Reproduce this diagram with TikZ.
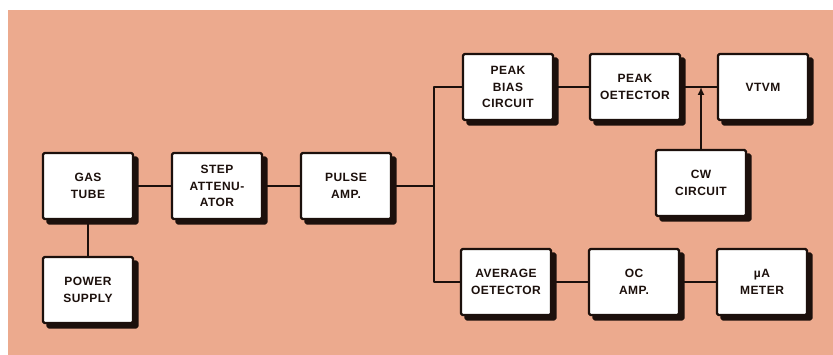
\documentclass[tikz,border=0pt]{standalone}
\usepackage{fontspec}
\setmainfont{Liberation Sans}[LetterSpace=4]
\usetikzlibrary{shadows,arrows.meta}

\definecolor{papier}{RGB}{236,170,142}
\definecolor{inkt}{RGB}{28,16,12}

\begin{document}
\begin{tikzpicture}[x=1pt, y=-1pt, line width=2.4pt, line cap=round, line join=round,
  blok/.style={draw=inkt, fill=white, line width=2.2pt, rounded corners=1.5pt,
    minimum width=90pt, minimum height=66pt, align=center, text=inkt,
    font=\fontsize{12}{16.5}\selectfont\bfseries,
    copy shadow={shadow xshift=4.5pt, shadow yshift=-4.5pt, fill=inkt, draw=inkt}},
  lijn/.style={draw=inkt, line width=2.4pt}]

  %% ════ achtergrond ════
  \fill[white] (0,0) rectangle (833,355);
  \fill[papier] (8,10) rectangle (833,355);

  %% ════ blokken ════
  \node[blok] (gas)     at (88,186)  {GAS\\TUBE};
  \node[blok] (voeding) at (88,290)  {POWER\\SUPPLY};
  \node[blok] (stap)    at (217,186) {STEP\\ATTENU-\\ATOR};
  \node[blok] (puls)    at (346,186) {PULSE\\AMP.};
  \node[blok] (bias)    at (508,87)  {PEAK\\BIAS\\CIRCUIT};
  \node[blok] (piek)    at (635,87)  {PEAK\\OETECTOR};
  \node[blok] (vtvm)    at (763,87)  {VTVM};
  \node[blok] (cw)      at (701,183) {CW\\CIRCUIT};
  \node[blok] (gem)     at (506,282) {AVERAGE\\OETECTOR};
  \node[blok] (dc)      at (634,282) {OC\\AMP.};
  \node[blok] (meter)   at (762,282) {µA\\METER};

  %% ════ verbindingen ════
  \coordinate (knoop) at (434,186);
  \coordinate (samen) at (cw.north |- piek.east);

  \draw[lijn] (gas.south) -- (voeding.north);
  \draw[lijn] (gas.east) -- (stap.west);
  \draw[lijn] (stap.east) -- (puls.west);
  \draw[lijn] (puls.east) -- (knoop);
  \draw[lijn] (bias.west) -| (knoop) |- (gem.west);
  \draw[lijn] (bias.east) -- (piek.west);
  \draw[lijn] (piek.east) -- (vtvm.west);
  \draw[lijn] (gem.east) -- (dc.west);
  \draw[lijn] (dc.east) -- (meter.west);
  \draw[lijn, -{Latex[length=8pt, width=7pt]}] (cw.north) -- (samen);

  % vaste tekenrand
  \pgfresetboundingbox
  \path[use as bounding box] (0,0) rectangle (833,355);
\end{tikzpicture}
\end{document}
